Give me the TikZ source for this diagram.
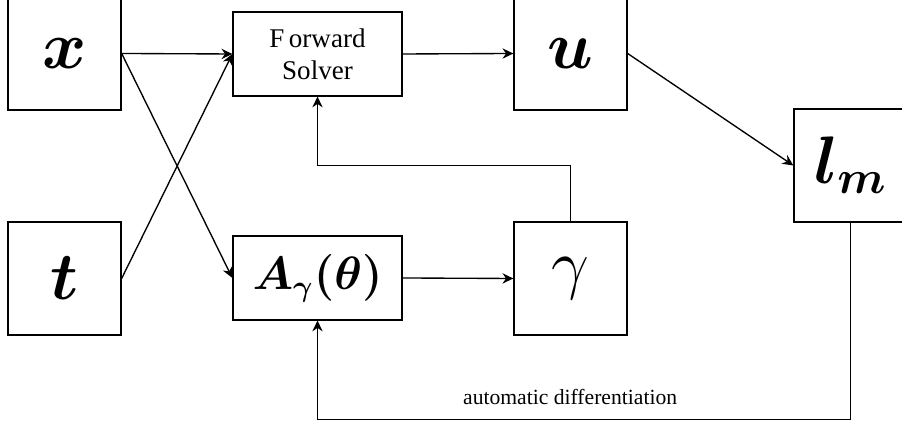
\documentclass[tikz,border=0pt]{standalone}
\usepackage{amsmath}
\usepackage{fontspec}
\setmainfont{Liberation Serif}
\usepackage{tikz}
\usetikzlibrary{arrows.meta, positioning}

\begin{document}
\begin{tikzpicture}[line width=0.5pt, >={Stealth[length=4pt, width=3.8pt]}, x=0.37pt, y=0.37pt,
    sqbox/.style={draw, minimum width=41.8pt, minimum height=41.8pt, font=\fontsize{23}{27}\selectfont},
    widebox/.style={draw, minimum width=62.5pt, minimum height=31pt, align=center}]
        \path[use as bounding box, clip] (0,0) rectangle (902,423);

        % Nodes
        \node[sqbox] (x) at (64.5, 369.5) {$\boldsymbol{x}$};
        \node[sqbox] (t) at (64.5, 144.5) {$\boldsymbol{t}$};
        \node[widebox] (solver) at (317.5, 369) {F\,orward\\Solver};
        \node[widebox, font=\fontsize{16}{19}\selectfont] (agamma) at (317.5, 145) {$\boldsymbol{A_{\gamma}(\theta)}$};
        \node[sqbox] (u) at (570.5, 369.5) {$\boldsymbol{u}$};
        \node[sqbox, font=\fontsize{25}{30}\selectfont] (gamma) at (570.5, 144.5) {$\gamma$};
        \node[sqbox] (lm) at (850.5, 257.5) {$\boldsymbol{l_m}$};

        % Directed edges
        \draw[->] (x.east) -- (solver.west);
        \draw[->] (x.east) -- (agamma.west);
        \draw[->] (t.east) -- (solver.west);
        \draw[->] (solver.east) -- (u.west);
        \draw[->] (u.east) -- (lm.west);
        \draw[->] (agamma.east) -- (gamma.west);
        \draw[->] (gamma.north) -- ++(0, 56) -| (solver.south);
        \draw[->] (lm.south) -- ++(0, -197) -| (agamma.south)
            node[pos=0.263, above, yshift=2pt, font=\footnotesize] {automatic differentiation};
    \end{tikzpicture}
\end{document}
